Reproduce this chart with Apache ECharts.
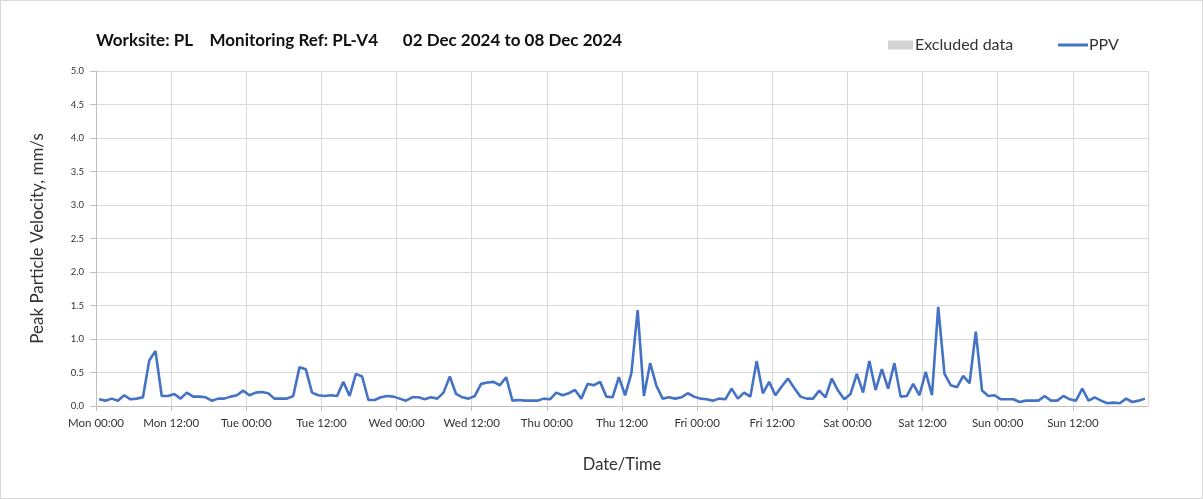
<!DOCTYPE html>
<html>
<head>
<meta charset="utf-8">
<script src="https://cdn.jsdelivr.net/npm/echarts@6/dist/echarts.min.js"></script>
<style>
html,body{margin:0;padding:0;background:#fff;}
#wrap{position:absolute;left:0;top:0;width:1201px;height:497px;border:1px solid #d9d9d9;}
#chart{width:1201px;height:497px;}
</style>
</head>
<body>
<div id="wrap"><div id="chart"></div></div>
<script>
// Day names used for the x tick labels (one tick every 12 hours)
const dayNames = ['Mon', 'Tue', 'Wed', 'Thu', 'Fri', 'Sat', 'Sun'];
const halfDayLabels = ['00:00', '12:00'];
// Hourly PPV readings (mm/s), Mon 02 Dec 00:00 to Sun 08 Dec 24:00
const ppvMon = [0.10, 0.08, 0.11, 0.08, 0.16, 0.10, 0.11, 0.13, 0.68, 0.82,
  0.15, 0.15, 0.18, 0.11, 0.20, 0.14, 0.14, 0.13, 0.08, 0.11,
  0.11, 0.14, 0.16, 0.23];
const ppvTue = [0.16, 0.20, 0.21, 0.19, 0.11, 0.11,
  0.11, 0.15, 0.58, 0.55, 0.20, 0.16, 0.15, 0.16, 0.15, 0.36,
  0.15, 0.48, 0.44, 0.09, 0.09, 0.13, 0.15, 0.14];
const ppvWed = [0.11, 0.08, 0.13, 0.13, 0.10, 0.13, 0.11, 0.20, 0.44, 0.18,
  0.13, 0.11, 0.15, 0.33, 0.35, 0.36, 0.31, 0.43, 0.08, 0.09,
  0.08, 0.08, 0.08, 0.11];
const ppvThu = [0.10, 0.20, 0.16, 0.19, 0.24, 0.11,
  0.33, 0.31, 0.36, 0.14, 0.13, 0.43, 0.16, 0.49, 1.43, 0.15,
  0.64, 0.30, 0.11, 0.13, 0.11, 0.13, 0.19, 0.14];
const ppvFri = [0.11, 0.10, 0.08, 0.11, 0.10, 0.26, 0.11, 0.20, 0.14, 0.67,
  0.19, 0.36, 0.16, 0.29, 0.41, 0.27, 0.14, 0.11, 0.11, 0.23,
  0.13, 0.41, 0.23, 0.10];
const ppvSat = [0.18, 0.48, 0.20, 0.67, 0.24, 0.55, 0.26, 0.64,
  0.14, 0.15, 0.33, 0.16, 0.51, 0.16, 1.48, 0.48, 0.31, 0.28,
  0.45, 0.34, 1.11, 0.23, 0.15, 0.16];
const ppvSun = [0.10, 0.10, 0.10, 0.06,
  0.08, 0.08, 0.08, 0.15, 0.08, 0.08, 0.15, 0.10, 0.08, 0.26,
  0.08, 0.13, 0.08, 0.04, 0.05, 0.04, 0.11, 0.06, 0.08, 0.11];
const ppvDays = [ppvMon, ppvTue, ppvWed, ppvThu, ppvFri, ppvSat, ppvSun];
// Excluded data (none in this period)
const excluded = [];

const seriesData = [];
ppvDays.forEach((arr, d) => arr.forEach((v, h) => seriesData.push([d * 24 + h + 0.5, v])));

const fontFam = 'Lato, "Open Sans", sans-serif';
const chart = echarts.init(document.getElementById('chart'), null, {renderer: 'canvas'});
chart.setOption({
  animation: false,
  backgroundColor: '#fff',
  title: {
    text: 'Worksite: PL    Monitoring Ref: PL-V4      02 Dec 2024 to 08 Dec 2024',
    left: 90, top: 26,
    textStyle: {fontFamily: fontFam, fontSize: 17, fontWeight: 'bold', color: '#111'}
  },
  legend: [{
    data: [{name: 'Excluded data', icon: 'rect'}],
    left: 882, top: 31, itemWidth: 25, itemHeight: 9, itemGap: 4,
    textStyle: {fontFamily: fontFam, fontSize: 16, color: '#333', padding: [0, 0, 0, -3]}
  }, {
    data: [{name: 'PPV', icon: 'rect'}],
    left: 1052, top: 31, itemWidth: 30, itemHeight: 3, itemGap: 4,
    textStyle: {fontFamily: fontFam, fontSize: 16, color: '#333', padding: [0, 0, 0, -4]}
  }],
  grid: {left: 95, right: 54, top: 70, bottom: 92, containLabel: false},
  xAxis: {
    type: 'value', min: 0, max: 168, interval: 12,
    name: 'Date/Time', nameLocation: 'middle', nameGap: 50,
    nameTextStyle: {fontFamily: fontFam, fontSize: 16.5, color: '#333'},
    axisLine: {show: true, lineStyle: {color: '#bfbfbf', width: 1}},
    axisTick: {show: true, length: 5, lineStyle: {color: '#bfbfbf'}},
    axisLabel: {
      fontFamily: fontFam, fontSize: 11.5, color: '#333', margin: 11, showMaxLabel: false,
      formatter: v => dayNames[Math.floor(v / 24)] + ' ' + halfDayLabels[(v % 24) / 12]
    },
    splitLine: {show: true, lineStyle: {color: '#d9d9d9', width: 1}}
  },
  yAxis: {
    type: 'value', min: 0, max: 5, interval: 0.5,
    name: 'Peak Particle Velocity, mm/s', nameLocation: 'middle', nameGap: 50,
    nameTextStyle: {fontFamily: fontFam, fontSize: 17, color: '#333'},
    axisLine: {show: true, lineStyle: {color: '#bfbfbf', width: 1}},
    axisTick: {show: true, length: 6, lineStyle: {color: '#bfbfbf'}},
    axisLabel: {fontFamily: fontFam, fontSize: 9.5, color: '#333', margin: 12, formatter: v => v.toFixed(1)},
    splitLine: {show: true, lineStyle: {color: '#d9d9d9', width: 1}}
  },
  series: [{
    name: 'Excluded data', type: 'bar', data: excluded,
    itemStyle: {color: '#d3d3d3'}
  }, {
    name: 'PPV', type: 'line', data: seriesData, showSymbol: false, symbol: 'none',
    lineStyle: {color: '#4472c4', width: 2.6}, itemStyle: {color: '#4472c4'}
  }]
});
</script>
</body>
</html>
